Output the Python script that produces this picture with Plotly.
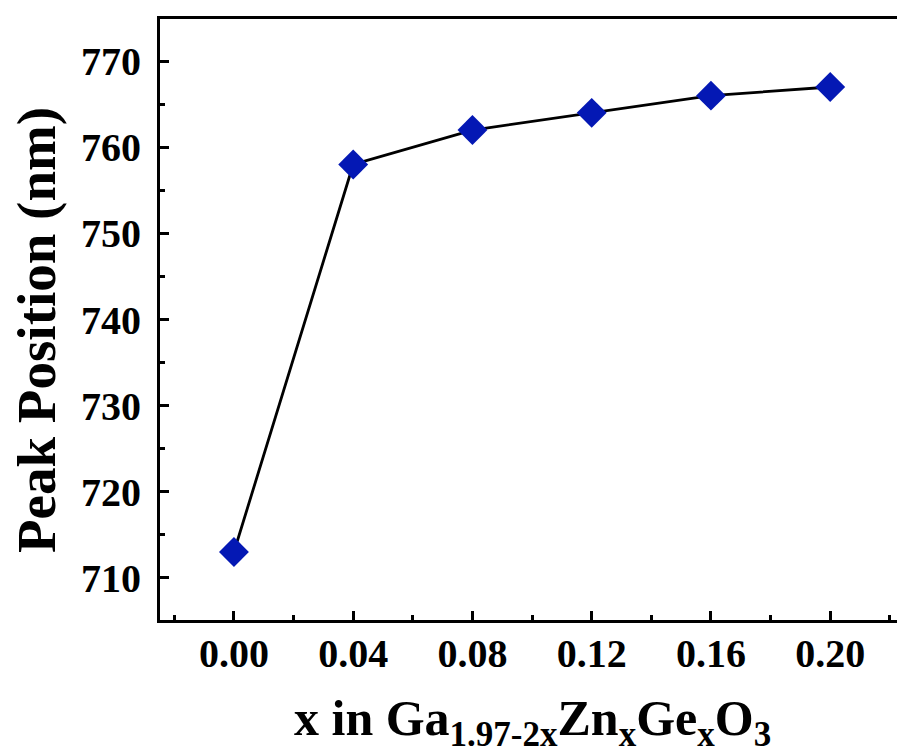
import plotly.graph_objects as go

x_vals = [0.00, 0.04, 0.08, 0.12, 0.16, 0.20]
peak_nm = [713, 758, 762, 764, 766, 767]
x_ticks = [0.00, 0.04, 0.08, 0.12, 0.16, 0.20]
y_ticks = [710, 720, 730, 740, 750, 760, 770]

FONT = "Liberation Serif"

fig = go.Figure()
fig.add_trace(go.Scatter(
    x=x_vals, y=peak_nm, mode="lines+markers",
    line=dict(color="black", width=2.8),
    marker=dict(symbol="diamond", size=23, color="#0418B4", line=dict(width=0)),
    showlegend=False,
))

axis_common = dict(
    showline=True, linecolor="black", linewidth=3,
    ticks="inside", ticklen=9, tickwidth=3, tickcolor="black",
    showgrid=False, zeroline=False,
    tickfont=dict(family=FONT, size=40, color="black", weight="bold"),
)

fig.update_layout(
    width=897, height=756,
    margin=dict(l=160, r=0, t=19, b=136),
    paper_bgcolor="white", plot_bgcolor="white",
    xaxis=dict(range=[-0.0248, 0.2224], tickvals=x_ticks, tickformat=".2f",
               mirror=True, ticklabelstandoff=-4,
               minor=dict(ticks="inside", ticklen=5, tickwidth=3, tickcolor="black", dtick=0.02, tick0=0),
               **axis_common),
    yaxis=dict(range=[705.1, 774.9], tickvals=y_ticks, ticklabelstandoff=8,
               minor=dict(ticks="inside", ticklen=5, tickwidth=3, tickcolor="black", dtick=5, tick0=705),
               **axis_common),
    annotations=[
        dict(text="Peak Position (nm)", xref="paper", yref="paper",
             x=(36 - 160) / 737, y=(620 - 330) / 601, xanchor="center", yanchor="middle",
             textangle=-90, showarrow=False,
             font=dict(family=FONT, size=55, color="black", weight="bold")),
        dict(text="x in Ga<sub>1.97-2x</sub>Zn<sub>x</sub>Ge<sub>x</sub>O<sub>3</sub>",
             xref="paper", yref="paper",
             x=(532 - 160) / 737, y=(620 - 722) / 601, xanchor="center", yanchor="middle",
             showarrow=False,
             font=dict(family=FONT, size=50, color="black", weight="bold")),
    ],
)

fig.write_html("out.html")
